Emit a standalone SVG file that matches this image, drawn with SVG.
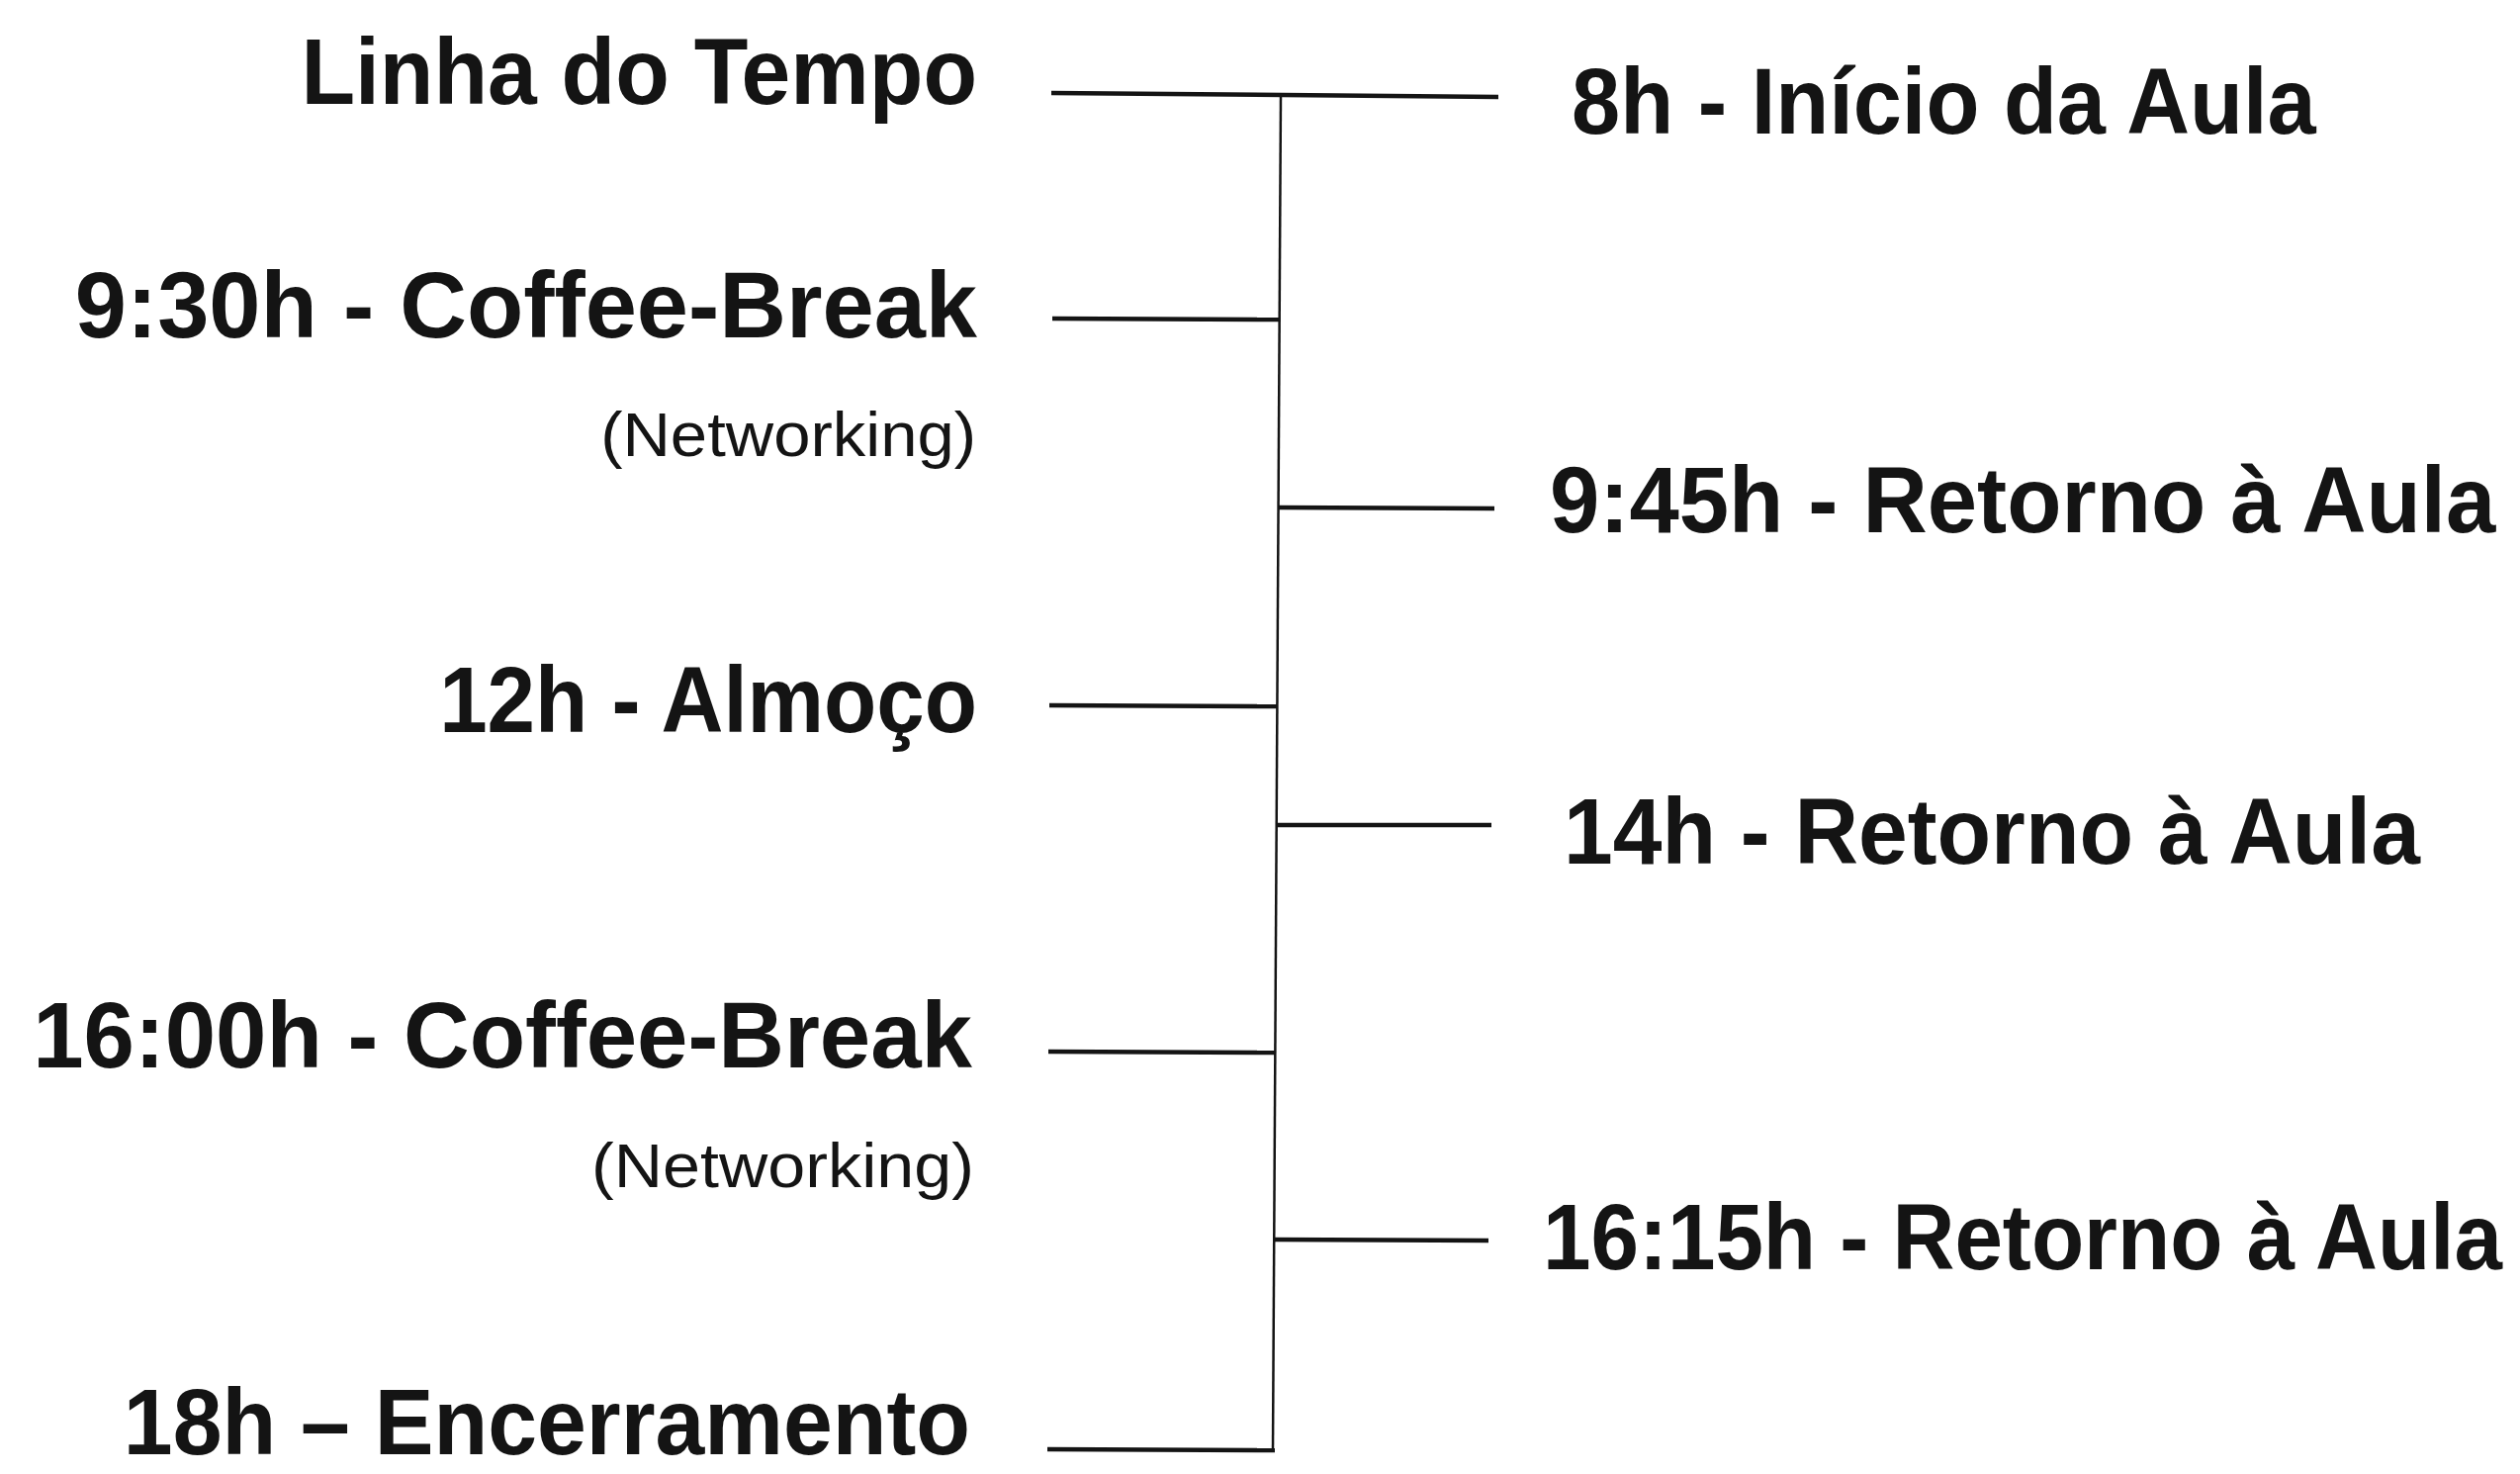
<svg xmlns="http://www.w3.org/2000/svg" width="2548" height="1490" viewBox="0 0 2548 1490">
<style>
.lbl{font-family:"Liberation Sans",Arial,sans-serif;font-weight:bold;font-size:94px;fill:#141414}
.sub{font-family:"Liberation Sans",Arial,sans-serif;font-weight:normal;font-size:63px;fill:#141414}
.l{text-anchor:end}
.stub{stroke:#141414;stroke-width:4.5;fill:none;stroke-linecap:butt}
.trunk{stroke:#141414;stroke-width:2.5;fill:none}
</style>
<rect x="0" y="0" width="2548" height="1490" fill="#ffffff"/>
<g id="connectors">
<line class="trunk" x1="1295" y1="96" x2="1287" y2="1467"/>
<line class="stub" x1="1063" y1="94" x2="1515" y2="98"/>
<line class="stub" x1="1064" y1="322" x2="1294" y2="323"/>
<line class="stub" x1="1293" y1="513" x2="1511" y2="514"/>
<line class="stub" x1="1061" y1="713" x2="1292" y2="714"/>
<line class="stub" x1="1291" y1="834" x2="1508" y2="834"/>
<line class="stub" x1="1060" y1="1063" x2="1290" y2="1064"/>
<line class="stub" x1="1288" y1="1253" x2="1505" y2="1254"/>
<line class="stub" x1="1059" y1="1465" x2="1289" y2="1466"/>
</g>
<g id="node-linha"><text class="lbl l" transform="translate(988,105) scale(0.951,1)">Linha do Tempo</text></g>
<g id="node-930"><text class="lbl l" transform="translate(988,341) scale(0.998,1)">9:30h - Coffee-Break</text>
<text class="sub l" transform="translate(987,461) scale(1.064,1)">(Networking)</text></g>
<g id="node-12h"><text class="lbl l" transform="translate(988,740) scale(0.927,1)">12h - Almoço</text></g>
<g id="node-1600"><text class="lbl l" transform="translate(983,1079) scale(0.983,1)">16:00h - Coffee-Break</text>
<text class="sub l" transform="translate(985,1200) scale(1.084,1)">(Networking)</text></g>
<g id="node-18h"><text class="lbl l" transform="translate(981,1470) scale(0.953,1)">18h – Encerramento</text></g>
<g id="node-8h"><text class="lbl" transform="translate(1589,135) scale(0.94,1)">8h - Início da Aula</text></g>
<g id="node-945"><text class="lbl" transform="translate(1567,538) scale(0.962,1)">9:45h - Retorno à Aula</text></g>
<g id="node-14h"><text class="lbl" transform="translate(1581,873) scale(0.951,1)">14h - Retorno à Aula</text></g>
<g id="node-1615"><text class="lbl" transform="translate(1560,1283) scale(0.927,1)">16:15h - Retorno à Aula</text></g>
</svg>
